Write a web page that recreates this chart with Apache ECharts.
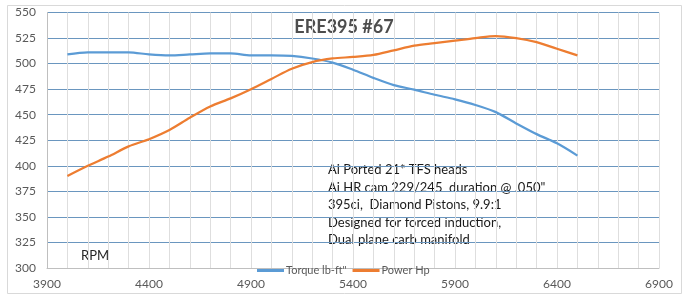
<!DOCTYPE html>
<html>
<head>
<meta charset="utf-8">
<script src="https://cdn.jsdelivr.net/npm/echarts@6/dist/echarts.min.js"></script>
<style>
html,body{margin:0;padding:0;background:#fff;}
#chart{width:692px;height:303px;}
</style>
</head>
<body>
<div id="chart"></div>
<script>
const rpm = [4000,4100,4200,4300,4400,4500,4600,4700,4800,4900,5000,5100,5200,5300,5400,5500,5600,5700,5800,5900,6000,6100,6200,6300,6400,6500];
const torque = [509,511,511,511,509,508,509,510,510,508,508,507.5,505,501,494,486,479,474.5,469.5,465,459.5,452.5,441.5,431,422,410];
const power = [390,400,409,419,426,435,447,458,466,475,485,495,501.5,505,506.5,508.5,513,517.5,520,522.5,525,527,525,521,514.5,508];
const seriesNames = ['Torque lb-ft"', 'Power Hp'];
const titleText = 'ERE395 #67';
const noteLines = ['Ai Ported 21* TFS heads', 'Ai HR cam 229/245  duration @ .050"', '395ci,  Diamond Pistons, 9.9:1', 'Designed for forced induction,', 'Dual plane carb manifold'];
const axisTitle = 'RPM';

const FONT = 'Lato, "Open Sans", sans-serif';
const chart = echarts.init(document.getElementById('chart'));
const pairs = (ys) => rpm.map((x, i) => [x, ys[i]]);

chart.setOption({
  animation: false,
  backgroundColor: '#fff',
  grid: {left: 47, right: 33, top: 12.5, bottom: 35},
  xAxis: {
    type: 'value', min: 3900, max: 6900, interval: 500,
    axisLine: {show: true, lineStyle: {color: '#bfbfbf'}},
    axisTick: {show: false},
    axisLabel: {color: '#595959', fontSize: 12, fontFamily: FONT, margin: 10, formatter: (v) => String(v)},
    splitLine: {show: true, lineStyle: {color: '#dedede'}},
    minorTick: {show: false, splitNumber: 5},
    minorSplitLine: {show: true, lineStyle: {color: '#dedede'}}
  },
  yAxis: {
    type: 'value', min: 300, max: 550, interval: 25,
    axisLine: {show: true, lineStyle: {color: '#bfbfbf'}},
    axisTick: {show: false},
    axisLabel: {color: '#595959', fontSize: 12, fontFamily: FONT, margin: 11},
    splitLine: {show: true, lineStyle: {color: '#6a96bf'}}
  },
  legend: {
    left: 257, top: 265, padding: 0, itemGap: 6,
    itemWidth: 27, itemHeight: 3, icon: 'rect',
    textStyle: {color: '#595959', fontSize: 11, fontFamily: FONT, padding: [0,0,0,-3]},
    data: seriesNames
  },
  series: [
    {name: seriesNames[0], type: 'line', data: pairs(torque), smooth: 0.3, symbol: 'none',
     lineStyle: {color: '#5b9bd5', width: 2.25}, itemStyle: {color: '#5b9bd5'}},
    {name: seriesNames[1], type: 'line', data: pairs(power), smooth: 0.3, symbol: 'none',
     lineStyle: {color: '#ed7d31', width: 2.25}, itemStyle: {color: '#ed7d31'}}
  ],
  graphic: [
    {type: 'rect', shape: {x: 7.5, y: 5.5, width: 674, height: 288}, style: {fill: 'none', stroke: '#d9d9d9', lineWidth: 1}, silent: true, z: -10},
    {type: 'text', x: 344, y: 27, style: {text: titleText, font: 'bold 18px ' + FONT, fill: '#4d4d4d', textAlign: 'center', textVerticalAlign: 'middle'}},
    {type: 'text', x: 81, y: 256, style: {text: axisTitle, font: '13px ' + FONT, fill: '#262626', textVerticalAlign: 'middle'}},
    {type: 'text', x: 328, y: 161, style: {text: noteLines.join('\n'), font: '13px ' + FONT, lineHeight: 17.6, fill: '#1a1a1a'}}
  ]
});
</script>
</body>
</html>
